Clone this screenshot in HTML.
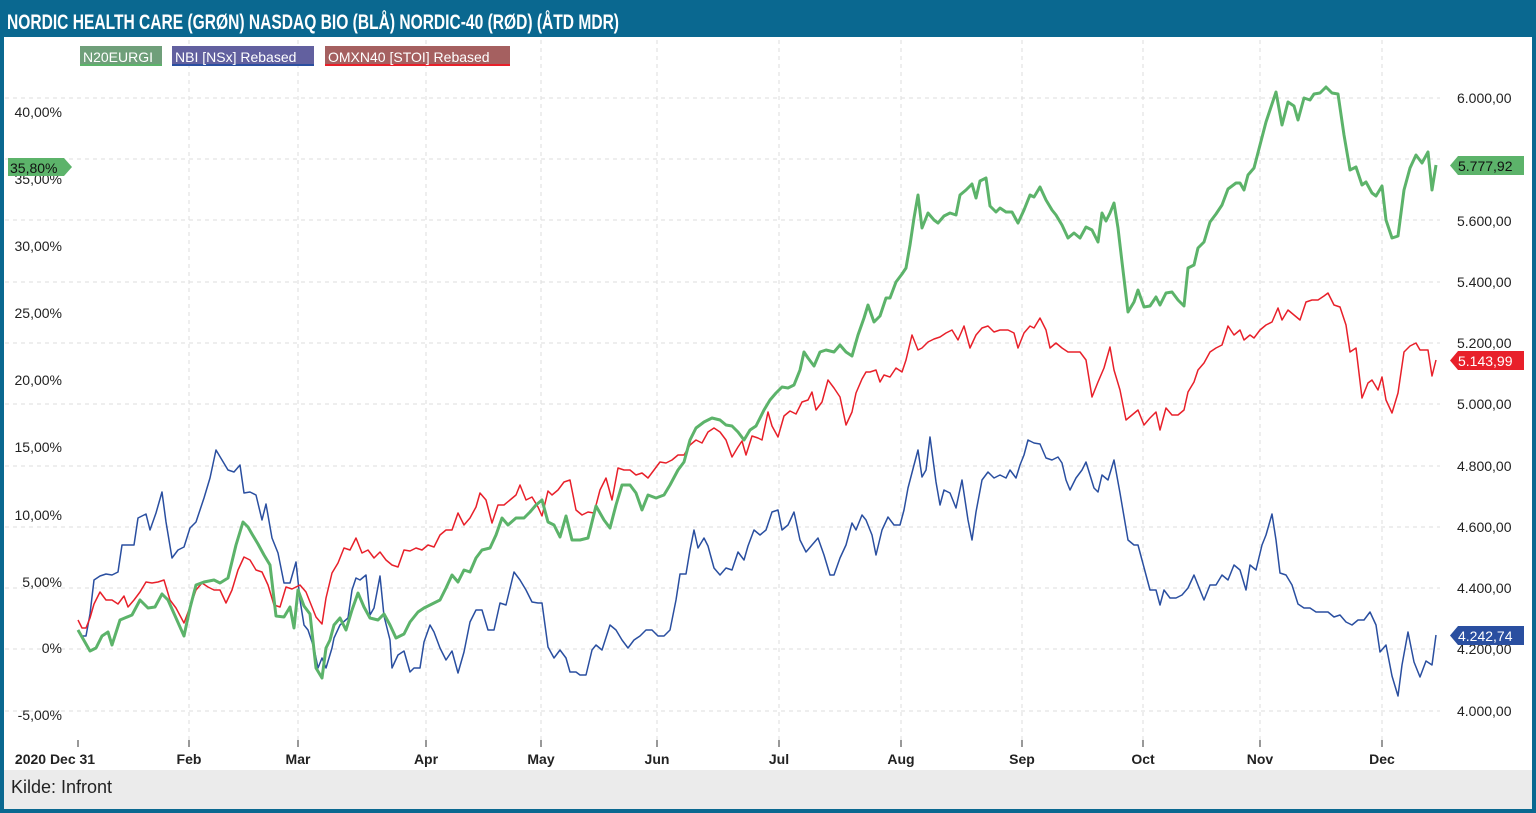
<!DOCTYPE html>
<html><head><meta charset="utf-8"><style>
html,body{margin:0;padding:0;width:1536px;height:813px;overflow:hidden;background:#fff}
svg text{font-family:"Liberation Sans",sans-serif}
</style></head><body>
<svg width="1536" height="813" viewBox="0 0 1536 813" xmlns="http://www.w3.org/2000/svg">
<rect x="0" y="0" width="1536" height="813" fill="#0a6890"/>
<rect x="4" y="37" width="1528" height="772" fill="#fff"/>
<text x="7" y="29" font-family="'DejaVu Sans Condensed','Liberation Sans Narrow',sans-serif" font-weight="bold" font-size="21" fill="#fff" textLength="612" lengthAdjust="spacingAndGlyphs">NORDIC HEALTH CARE (GRØN) NASDAQ BIO (BLÅ) NORDIC-40 (RØD) (ÅTD MDR)</text>
<rect x="4" y="770" width="1528" height="39" fill="#ebebeb"/>
<text x="11" y="793" font-size="18" fill="#222" font-family="'DejaVu Sans',sans-serif">Kilde: Infront</text>
<g stroke="#ddd" stroke-dasharray="4,4" stroke-width="1">
<line x1="5" x2="1440" y1="98" y2="98"/><line x1="5" x2="1440" y1="159" y2="159"/><line x1="5" x2="1440" y1="220" y2="220"/><line x1="5" x2="1440" y1="282" y2="282"/><line x1="5" x2="1440" y1="343" y2="343"/><line x1="5" x2="1440" y1="404" y2="404"/><line x1="5" x2="1440" y1="466" y2="466"/><line x1="5" x2="1440" y1="527" y2="527"/><line x1="5" x2="1440" y1="588" y2="588"/><line x1="5" x2="1440" y1="649" y2="649"/><line x1="5" x2="1440" y1="711" y2="711"/>
<line x1="189" x2="189" y1="40" y2="740"/><line x1="298" x2="298" y1="40" y2="740"/><line x1="426" x2="426" y1="40" y2="740"/><line x1="541" x2="541" y1="40" y2="740"/><line x1="657" x2="657" y1="40" y2="740"/><line x1="779" x2="779" y1="40" y2="740"/><line x1="901" x2="901" y1="40" y2="740"/><line x1="1022" x2="1022" y1="40" y2="740"/><line x1="1143" x2="1143" y1="40" y2="740"/><line x1="1260" x2="1260" y1="40" y2="740"/><line x1="1382" x2="1382" y1="40" y2="740"/>
</g>
<g stroke="#333" stroke-width="1"><line x1="78" x2="78" y1="740" y2="747"/><line x1="189" x2="189" y1="740" y2="747"/><line x1="298" x2="298" y1="740" y2="747"/><line x1="426" x2="426" y1="740" y2="747"/><line x1="541" x2="541" y1="740" y2="747"/><line x1="657" x2="657" y1="740" y2="747"/><line x1="779" x2="779" y1="740" y2="747"/><line x1="901" x2="901" y1="740" y2="747"/><line x1="1022" x2="1022" y1="740" y2="747"/><line x1="1143" x2="1143" y1="740" y2="747"/><line x1="1260" x2="1260" y1="740" y2="747"/><line x1="1382" x2="1382" y1="740" y2="747"/></g>
<g font-size="14" font-weight="bold" fill="#222" text-anchor="middle">
<text x="55" y="764">2020 Dec 31</text><text x="189" y="764">Feb</text><text x="298" y="764">Mar</text><text x="426" y="764">Apr</text><text x="541" y="764">May</text><text x="657" y="764">Jun</text><text x="779" y="764">Jul</text><text x="901" y="764">Aug</text><text x="1022" y="764">Sep</text><text x="1143" y="764">Oct</text><text x="1260" y="764">Nov</text><text x="1382" y="764">Dec</text>
</g>
<g font-size="14" fill="#222" text-anchor="end">
<text x="62" y="117">40,00%</text><text x="62" y="184">35,00%</text><text x="62" y="251">30,00%</text><text x="62" y="318">25,00%</text><text x="62" y="385">20,00%</text><text x="62" y="452">15,00%</text><text x="62" y="520">10,00%</text><text x="62" y="587">5,00%</text><text x="62" y="653">0%</text><text x="62" y="720">-5,00%</text>
</g>
<g font-size="14" fill="#222">
<text x="1457" y="103">6.000,00</text><text x="1457" y="226">5.600,00</text><text x="1457" y="287">5.400,00</text><text x="1457" y="348">5.200,00</text><text x="1457" y="409">5.000,00</text><text x="1457" y="471">4.800,00</text><text x="1457" y="532">4.600,00</text><text x="1457" y="593">4.400,00</text><text x="1457" y="654">4.200,00</text><text x="1457" y="716">4.000,00</text>
</g>
<rect x="80" y="46" width="82" height="20" fill="#6f9f7a"/><rect x="80" y="64" width="82" height="2" fill="#5cb36a"/>
<text x="83" y="62" font-size="14" fill="#fff">N20EURGI</text>
<rect x="172" y="46" width="142" height="20" fill="#62609f"/><rect x="172" y="64" width="142" height="2" fill="#2a4fa0"/>
<text x="175" y="62" font-size="14" fill="#fff">NBI [NSx] Rebased</text>
<rect x="325" y="46" width="185" height="20" fill="#a56060"/><rect x="325" y="64" width="185" height="2" fill="#e8202a"/>
<text x="328" y="62" font-size="14" fill="#fff">OMXN40 [STOI] Rebased</text>
<polyline fill="none" stroke="#2a4fa0" stroke-width="1.5" stroke-linejoin="round" points="78,630 82,636 86,636 90,614 94,580 100,576 106,574 112,575 118,572 122,545 128,545 134,545 138,518 146,514 150,530 156,513 162,492 166,522 172,558 178,550 184,547 190,528 196,522 204,498 210,478 216,450 222,460 228,470 234,472 240,465 244,493 250,492 256,495 262,520 266,504 272,538 278,553 284,583 290,583 296,562 300,600 304,625 308,630 314,648 318,668 322,658 326,668 332,648 334,638 340,625 348,618 352,590 356,578 360,580 366,575 370,615 374,608 380,576 384,616 390,640 392,668 398,655 404,651 410,672 414,668 420,668 424,642 430,625 434,632 440,648 446,660 452,651 458,673 464,652 470,622 476,610 482,610 488,630 494,630 500,603 506,605 514,572 520,580 526,590 532,602 538,603 542,603 548,647 554,658 560,650 566,658 570,672 576,672 580,675 586,675 592,650 596,645 602,650 610,625 616,630 622,640 628,648 634,640 640,636 646,630 652,630 658,636 664,636 670,630 676,600 680,574 686,574 690,550 694,530 698,548 704,538 708,546 714,568 720,575 726,568 732,570 738,552 744,560 748,546 754,530 760,535 766,530 772,512 778,510 782,530 788,525 794,512 800,540 806,552 812,545 818,538 824,555 830,575 834,575 840,558 846,545 852,523 856,530 862,515 866,520 872,535 876,555 882,530 888,517 894,525 900,525 904,510 908,488 914,465 918,450 922,477 926,470 930,437 936,482 940,505 944,490 950,493 956,508 962,480 968,520 972,540 976,512 982,480 988,472 994,478 1000,475 1006,478 1010,470 1016,478 1020,465 1024,455 1028,440 1034,443 1040,444 1046,458 1052,460 1058,457 1062,463 1066,480 1070,490 1076,478 1082,470 1086,462 1090,475 1094,488 1098,492 1102,475 1108,480 1114,460 1120,493 1128,540 1134,545 1138,545 1142,560 1146,575 1150,590 1156,590 1160,605 1164,590 1170,598 1176,598 1182,595 1188,588 1194,575 1198,585 1204,600 1210,585 1216,585 1222,575 1228,580 1234,565 1240,570 1246,590 1250,565 1256,570 1262,545 1266,535 1272,514 1276,540 1280,573 1286,575 1292,585 1298,604 1304,608 1310,608 1316,612 1322,612 1328,612 1334,617 1340,615 1346,622 1352,625 1358,620 1364,620 1370,612 1376,625 1380,652 1386,645 1392,676 1398,696 1402,665 1408,632 1414,662 1420,677 1426,661 1432,665 1436,635"/>
<polyline fill="none" stroke="#e8202a" stroke-width="1.5" stroke-linejoin="round" points="78,620 82,628 86,628 90,618 94,604 100,592 106,600 112,600 118,604 124,596 128,607 134,600 140,592 146,582 152,583 158,582 164,580 170,600 176,608 184,623 190,607 196,590 202,583 208,587 214,590 220,590 226,603 232,590 238,570 244,557 250,560 256,570 262,572 268,585 274,605 280,607 286,587 292,589 296,587 300,585 306,592 312,607 316,617 322,624 326,598 332,573 338,563 344,548 350,550 356,538 362,553 368,550 374,558 380,552 386,560 392,565 398,567 404,550 410,551 416,548 422,550 428,545 434,547 440,535 446,530 452,530 458,513 464,525 470,518 476,507 480,493 486,500 492,523 498,505 504,505 510,500 516,495 520,485 526,500 532,497 538,507 542,516 548,491 552,495 558,490 564,482 570,480 576,510 582,515 588,512 594,513 600,490 606,478 612,500 618,468 624,470 630,470 636,475 642,473 648,478 654,470 660,462 666,463 672,460 678,455 684,455 690,445 696,440 702,443 708,432 714,428 720,432 726,440 732,457 738,447 742,441 746,455 752,436 758,438 762,440 768,412 772,426 778,437 784,416 790,411 796,414 802,402 808,400 812,392 816,410 822,402 828,380 834,388 840,397 846,425 852,412 856,393 862,379 866,372 870,372 876,370 880,382 884,375 890,377 896,368 902,372 906,360 912,335 918,350 922,348 928,342 934,339 940,337 946,333 952,330 958,340 964,326 970,348 976,335 982,328 988,326 994,332 1000,330 1008,330 1014,333 1018,348 1024,333 1030,326 1034,328 1040,318 1046,330 1050,348 1056,343 1062,348 1068,352 1074,352 1080,352 1086,360 1092,397 1098,382 1104,368 1110,347 1114,370 1120,390 1126,420 1132,415 1138,410 1144,425 1150,418 1156,412 1160,430 1166,408 1172,415 1178,415 1184,410 1188,392 1194,382 1198,370 1204,363 1210,352 1216,348 1222,345 1228,326 1234,335 1240,330 1244,340 1250,335 1254,338 1260,330 1266,325 1272,322 1278,308 1282,320 1288,310 1294,315 1300,320 1306,302 1312,300 1318,300 1324,296 1328,293 1334,305 1340,307 1346,325 1350,352 1356,348 1362,398 1368,383 1372,380 1378,390 1382,377 1386,400 1392,413 1398,393 1404,352 1410,346 1416,343 1420,350 1428,350 1432,376 1436,360"/>
<polyline fill="none" stroke="#5cb36a" stroke-width="3" stroke-linejoin="round" points="78,630 90,651 96,648 102,636 108,632 112,645 120,620 132,615 140,600 148,608 155,607 162,594 168,600 176,618 184,636 190,608 196,585 204,582 214,580 220,583 228,578 236,545 243,522 248,527 252,534 258,544 264,555 270,565 276,616 284,617 290,607 294,628 298,590 304,606 310,614 316,668 322,678 326,648 330,640 334,625 340,618 346,630 352,610 358,593 364,607 370,618 378,620 384,614 390,625 396,638 404,634 410,622 418,612 424,608 430,605 440,600 446,588 452,575 458,582 464,570 470,572 476,558 482,550 490,548 496,535 502,518 508,525 516,518 524,518 530,512 536,505 542,500 548,522 554,525 560,537 566,516 572,540 580,540 588,538 596,506 604,520 610,528 616,505 622,485 630,485 636,493 642,510 648,495 656,498 664,495 670,485 678,470 684,462 690,440 696,428 704,422 712,418 720,420 726,425 732,426 738,432 744,440 750,430 756,426 764,410 770,400 776,393 782,387 788,388 794,385 800,370 804,352 808,358 814,366 820,352 826,350 834,352 840,345 846,352 852,356 858,335 864,318 868,305 874,322 880,316 886,298 890,298 896,282 902,274 906,268 910,245 914,218 918,195 922,228 928,213 934,220 938,223 944,216 950,213 956,215 960,195 966,190 972,184 976,198 980,181 986,178 990,206 996,212 1000,208 1006,212 1012,212 1018,223 1024,210 1030,195 1034,197 1040,187 1046,200 1052,210 1056,215 1062,225 1068,238 1074,233 1080,238 1086,227 1092,230 1098,242 1102,213 1106,221 1110,213 1114,203 1118,228 1122,262 1128,312 1134,302 1138,290 1144,307 1150,306 1156,297 1160,305 1166,293 1172,292 1178,300 1184,306 1188,268 1194,265 1198,248 1204,242 1210,222 1216,214 1222,205 1228,189 1236,183 1240,183 1244,190 1248,175 1254,168 1260,145 1266,122 1270,110 1276,92 1282,125 1288,102 1294,106 1298,120 1304,98 1310,100 1314,94 1320,93 1326,87 1332,93 1338,94 1344,135 1350,170 1356,167 1362,185 1366,182 1372,193 1376,196 1382,186 1386,220 1392,238 1398,236 1404,190 1410,168 1416,155 1422,163 1428,152 1432,190 1436,165"/>
<polygon points="8,158 64,158 72,167 64,176 8,176" fill="#5cb36a"/>
<text x="10" y="173" font-size="14" fill="#111">35,80%</text>
<polygon points="1458,156 1524,156 1524,175 1458,175 1450,165.5" fill="#5cb36a"/>
<text x="1458" y="171" font-size="14" fill="#111">5.777,92</text>
<polygon points="1458,351 1524,351 1524,370 1458,370 1450,360.5" fill="#e8202a"/>
<text x="1458" y="366" font-size="14" fill="#fff">5.143,99</text>
<polygon points="1458,626 1524,626 1524,645 1458,645 1450,635.5" fill="#2a4fa0"/>
<text x="1458" y="641" font-size="14" fill="#fff">4.242,74</text>
</svg>
</body></html>
